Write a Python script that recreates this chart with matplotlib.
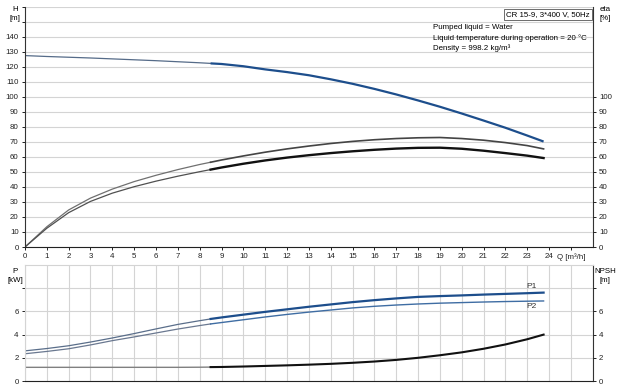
import numpy as np
import matplotlib
matplotlib.use('Agg')
import matplotlib.pyplot as plt

plt.rcParams['font.family'] = ['Liberation Sans', 'DejaVu Sans']
plt.rcParams['font.size'] = 5.7

# flow points [m3/h]
q = [0, 1, 2, 3, 4, 5, 6, 7, 8, 8.5, 9, 10, 11, 12, 13, 14, 15, 16, 17, 18,
     19, 20, 21, 22, 23, 23.75]
head = [127.6, 127.0, 126.5, 126.0, 125.4, 124.8, 124.2, 123.5, 122.8, 122.4,
        122.0, 120.5, 118.4, 116.6, 114.5, 111.8, 108.8, 105.4, 101.7, 97.7,
        93.5, 89.0, 84.3, 79.5, 74.3, 70.3]
eta_hyd = [0, 13.5, 24.7, 32.6, 38.6, 43.6, 47.8, 51.6, 55.0, 56.5, 58.0, 60.7,
           63.2, 65.4, 67.3, 69.0, 70.4, 71.5, 72.3, 72.8, 73.0, 72.3, 71.2,
           69.6, 67.6, 65.4]
eta_tot = [0, 12.5, 22.9, 30.4, 35.9, 40.2, 43.9, 47.2, 50.2, 51.6, 53.0, 55.5,
           57.7, 59.6, 61.2, 62.6, 63.8, 64.8, 65.6, 66.1, 66.2, 65.5, 64.2,
           62.6, 60.9, 59.3]
p1 = [2.6, 2.8, 3.04, 3.36, 3.71, 4.09, 4.49, 4.88, 5.2, 5.35, 5.48, 5.72, 5.96,
      6.18, 6.4, 6.6, 6.8, 6.97, 7.12, 7.25, 7.32, 7.38, 7.45, 7.51, 7.57, 7.62]
p2 = [2.35, 2.55, 2.78, 3.11, 3.48, 3.8, 4.14, 4.48, 4.78, 4.92, 5.04, 5.28,
      5.52, 5.74, 5.94, 6.12, 6.3, 6.44, 6.55, 6.64, 6.71, 6.76, 6.81, 6.85,
      6.88, 6.9]
npsh = [1.18, 1.18, 1.18, 1.18, 1.18, 1.18, 1.18, 1.18, 1.19, 1.2, 1.21, 1.25,
        1.3, 1.35, 1.41, 1.48, 1.57, 1.68, 1.82, 2.0, 2.22, 2.47, 2.78, 3.15,
        3.6, 4.0]

q = np.array(q)
cut = 9  # index of q = 8.5, start of the duty range
lo = slice(0, cut + 1)
hi = slice(cut, None)

GRID = '#d4d4d4'
BLUE = '#1d4e8c'

fig = plt.figure(figsize=(6.2, 3.88), dpi=100)
ax = fig.add_axes([0.0403, 0.3634, 0.9157, 0.6186])
axb = fig.add_axes([0.0403, 0.018, 0.9157, 0.299])

for a in (ax, axb):
    a.set_xlim(0, 26)
    a.set_xticks(np.arange(0, 27, 1), minor=True)
    a.grid(True, which='minor', axis='x', color=GRID, lw=0.8)
    a.grid(True, which='major', axis='y', color=GRID, lw=0.8)
    a.tick_params(axis='x', which='minor', length=0)
    a.set_axisbelow(True)
    for s in a.spines.values():
        s.set_color(GRID)

# --- top: head and efficiency
ax.set_ylim(0, 160)
ax.set_yticks(np.arange(0, 170, 10))
ax.set_yticklabels([str(v) if v <= 140 else '' for v in range(0, 170, 10)])
ax.set_xticks(np.arange(0, 26, 1))
ax.set_xticklabels([str(v) for v in range(25)] + ['Q [m³/h]'])
ax.tick_params(length=2.5, width=0.7, pad=2, colors='#222222')
ax.spines['left'].set_color('#333333')
ax.spines['bottom'].set_color('#222222')
ax.spines['right'].set_color('#333333')
ax.spines['top'].set_visible(False)

ax.plot(q[lo], head[lo], color='#556b88', lw=0.9)
ax.plot(q[hi], head[hi], color=BLUE, lw=1.6, solid_capstyle='butt')
ax.plot(q[lo], eta_hyd[lo], color='#707070', lw=0.9)
ax.plot(q[hi], eta_hyd[hi], color='#444444', lw=1.2)
ax.plot(q[lo], eta_tot[lo], color='#505050', lw=0.9)
ax.plot(q[hi], eta_tot[hi], color='#111111', lw=1.7)

ax2 = ax.twinx()
ax2.set_ylim(0, 160)
ax2.set_yticks(np.arange(0, 110, 10))
ax2.tick_params(length=2.5, width=0.7, pad=2, colors='#222222')
for s in ax2.spines.values():
    s.set_visible(False)

fig.text(0.024, 0.985, 'H\n[m]', ha='center', va='top', linespacing=1.4)
fig.text(0.976, 0.985, 'eta\n[%]', ha='center', va='top', linespacing=1.4)

ax.text(0.995, 0.985, 'CR 15-9, 3*400 V, 50Hz', transform=ax.transAxes,
        ha='right', va='top',
        bbox=dict(boxstyle='square,pad=0.25', fc='white', ec='#555555', lw=0.6))
info = ['Pumped liquid = Water',
        'Liquid temperature during operation = 20 °C',
        'Density = 998.2 kg/m³']
for i, t in enumerate(info):
    ax.text(0.719, 0.93 - i * 0.043, t, transform=ax.transAxes,
            ha='left', va='top')

# --- bottom: power and NPSH
axb.set_ylim(0, 10)
axb.set_yticks([0, 2, 4, 6, 8])
axb.set_yticklabels(['0', '2', '4', '6', ''])
axb.set_xticks([])
axb.tick_params(length=2.5, width=0.7, pad=2, colors='#222222')
axb.spines['bottom'].set_color('#222222')
axb.spines['right'].set_color('#333333')

axb.plot(q[lo], p1[lo], color='#5a6e8a', lw=0.9)
axb.plot(q[hi], p1[hi], color=BLUE, lw=1.6)
axb.plot(q[lo], p2[lo], color='#6a7890', lw=0.9)
axb.plot(q[hi], p2[hi], color='#3f6da3', lw=1.0)
axb.plot(q[lo], npsh[lo], color='#808080', lw=1.0)
axb.plot(q[hi], npsh[hi], color='#111111', lw=1.5)
axb.text(23.2, p1[-1] + 0.2, 'P1', ha='center', va='bottom', color='#333333', fontsize=6)
axb.text(23.2, p2[-1] - 0.2, 'P2', ha='center', va='top', color='#333333', fontsize=6)

axb2 = axb.twinx()
axb2.set_ylim(0, 10)
axb2.set_yticks([0, 2, 4, 6, 8])
axb2.set_yticklabels(['0', '2', '4', '6', ''])
axb2.tick_params(length=2.5, width=0.7, pad=2, colors='#222222')
for s in axb2.spines.values():
    s.set_visible(False)

fig.text(0.024, 0.31, 'P\n[kW]', ha='center', va='top', linespacing=1.4)
fig.text(0.976, 0.31, 'NPSH\n[m]', ha='center', va='top', linespacing=1.4)

fig.savefig('out.png', dpi=100)
